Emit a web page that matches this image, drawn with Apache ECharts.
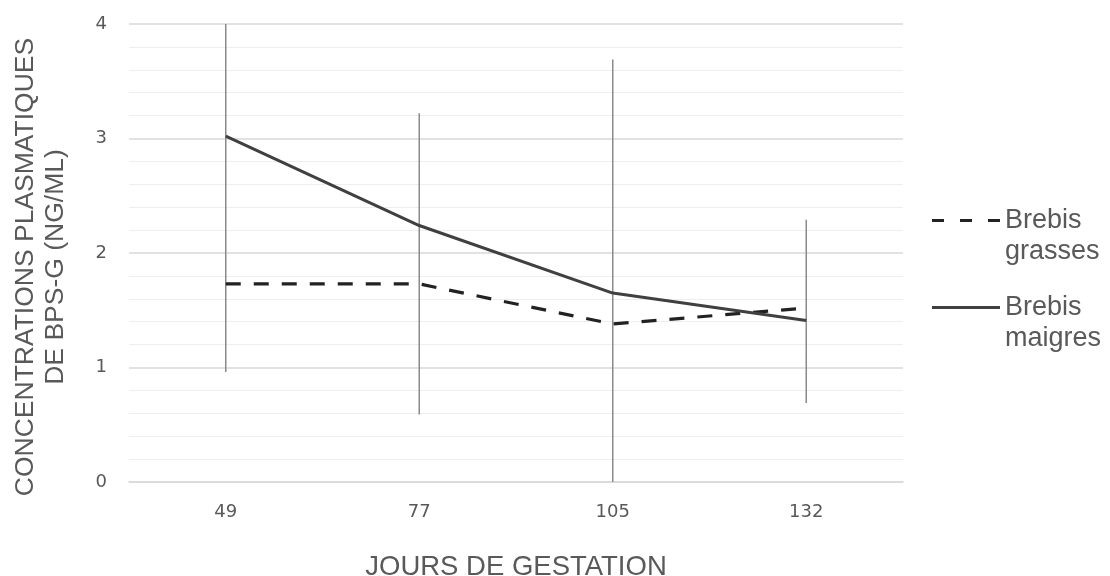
<!DOCTYPE html>
<html>
<head>
<meta charset="utf-8">
<script src="https://cdn.jsdelivr.net/npm/echarts@6/dist/echarts.min.js"></script>
<style>
  html, body { margin: 0; padding: 0; background: #fff; }
  #chart { width: 1110px; height: 576px; }
</style>
</head>
<body>
<div id="chart"></div>
<script>
// Jours de gestation (catégories)
const days = ['49', '77', '105', '132'];
// Concentrations moyennes (ng/mL)
const grasses = [1.73, 1.73, 1.38, 1.52];
const maigres = [3.02, 2.24, 1.65, 1.41];
// Étendue des barres d'erreur par jour
const errLow = [0.96, 0.59, 0.0, 0.69];
const errHigh = [4.0, 3.22, 3.69, 2.29];

const textColor = '#595959';
const titleFont = '"Liberation Sans", Arial, sans-serif';
const tickFont = '"DejaVu Sans", Verdana, sans-serif';

const chart = echarts.init(document.getElementById('chart'), null, { renderer: 'canvas' });

// Leading blank line keeps the first text line level with the legend symbol
const legendText = {
  color: textColor,
  fontFamily: titleFont,
  fontSize: 27,
  lineHeight: 31
};
// Legend symbols: three dashes / one plain stroke
const dashedIcon = 'path://M0,0h12v3h-12z M28,0h12v3h-12z M56,0h12v3h-12z';
const solidIcon = 'path://M0,0h68v3h-68z';

chart.setOption({
  animation: false,
  backgroundColor: '#ffffff',
  grid: { left: 129, right: 207, top: 24, bottom: 94, outerBoundsMode: 'none', containLabel: false },
  legend: [
    {
      data: [{ name: 'Brebis grasses', icon: dashedIcon }],
      orient: 'vertical',
      left: 932, top: 174, padding: 0,
      itemWidth: 68, itemHeight: 3,
      itemStyle: { color: '#222222' },
      formatter: () => '\nBrebis\ngrasses',
      textStyle: legendText
    },
    {
      data: [{ name: 'Brebis maigres', icon: solidIcon }],
      orient: 'vertical',
      left: 932, top: 261, padding: 0,
      itemWidth: 68, itemHeight: 3,
      itemStyle: { color: '#404040' },
      formatter: () => '\nBrebis\nmaigres',
      textStyle: legendText
    }
  ],
  xAxis: {
    type: 'category',
    data: days,
    boundaryGap: true,
    axisLine: { show: true, lineStyle: { color: '#d9d9d9', width: 1.5 } },
    axisTick: { show: false },
    axisLabel: { color: textColor, fontFamily: tickFont, fontSize: 18, margin: 21 },
    splitLine: { show: false },
    name: 'JOURS DE GESTATION',
    nameLocation: 'middle',
    nameGap: 71,
    nameTextStyle: { color: textColor, fontFamily: titleFont, fontSize: 27.5 }
  },
  yAxis: {
    type: 'value',
    min: 0, max: 4, interval: 1,
    axisLine: { show: false },
    axisTick: { show: false },
    axisLabel: { color: textColor, fontFamily: tickFont, fontSize: 18, margin: 22 },
    splitLine: { show: true, lineStyle: { color: '#d9d9d9', width: 1.5 } },
    minorTick: { show: false, splitNumber: 5 },
    minorSplitLine: { show: true, lineStyle: { color: '#eeeeee', width: 1.2 } },
    name: 'CONCENTRATIONS PLASMATIQUES\nDE BPS-G (NG/ML)',
    nameLocation: 'middle',
    nameRotate: 90,
    nameGap: 58,
    nameTextStyle: {
      color: textColor, fontFamily: titleFont, fontSize: 26.5, lineHeight: 30,
      align: 'center', padding: [0, 28, 0, 0]
    }
  },
  series: [
    {
      type: 'custom',
      name: 'erreur',
      z: 1,
      renderItem: (params, api) => {
        const lo = api.coord([api.value(0), api.value(1)]);
        const hi = api.coord([api.value(0), api.value(2)]);
        return {
          type: 'line',
          shape: { x1: lo[0], y1: lo[1], x2: hi[0], y2: hi[1] },
          style: { stroke: '#8a8a8a', lineWidth: 1.5 }
        };
      },
      encode: { x: 0, y: [1, 2] },
      data: days.map((d, i) => [i, errLow[i], errHigh[i]])
    },
    {
      type: 'line',
      name: 'Brebis grasses',
      z: 3,
      data: grasses,
      symbol: 'none',
      lineStyle: { color: '#222222', width: 3.2, type: [15, 13] },
      itemStyle: { color: '#222222' }
    },
    {
      type: 'line',
      name: 'Brebis maigres',
      z: 3,
      data: maigres,
      symbol: 'none',
      lineStyle: { color: '#404040', width: 3 },
      itemStyle: { color: '#404040' }
    }
  ]
});
</script>
</body>
</html>
